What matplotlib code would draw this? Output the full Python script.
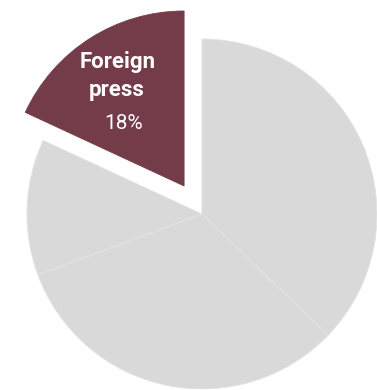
import numpy as np
import matplotlib
matplotlib.use("Agg")
import matplotlib.pyplot as plt

# share of coverage by source, clockwise from 12 o'clock
labels = ["Other A", "Other B", "Other C", "Foreign\npress"]
shares = [37, 32, 12.5, 18]
highlight = "Foreign\npress"

GRAY = "#d9d9d9"
MAROON = "#733c48"

fig = plt.figure(figsize=(3.77, 3.90), dpi=100)
ax = fig.add_axes([0, 0, 1, 1])

colors = [MAROON if l == highlight else GRAY for l in labels]
explode = [0.19 if l == highlight else 0 for l in labels]

wedges, _ = ax.pie(shares, colors=colors, explode=explode, startangle=90,
                   counterclock=False, radius=1.0,
                   wedgeprops=dict(edgecolor="#e4e4e4", linewidth=0.6))
for w, l in zip(wedges, labels):
    if l == highlight:
        w.set_edgecolor(MAROON)

# label inside the highlighted wedge
idx = labels.index(highlight)
w = wedges[idx]
mid = np.deg2rad((w.theta1 + w.theta2) / 2)
cx, cy = w.center
r = 0.66
lx, ly = cx + r * np.cos(mid), cy + r * np.sin(mid)
ax.text(lx - 0.027, ly + 0.15, "Foreign", ha="center", va="center", color="white",
        fontsize=16, fontweight="bold", family="Roboto")
ax.text(lx - 0.027, ly - 0.01, "press", ha="center", va="center", color="white",
        fontsize=16, fontweight="bold", family="Roboto")
ax.text(lx + 0.007, ly - 0.20, f"{shares[idx]:g}%", ha="center", va="center",
        color="white", fontsize=15, family="Roboto")

ax.set_aspect("auto")
ax.set_xlim(-1.154, 1.0)
ax.set_ylim(-1.006, 1.223)
ax.axis("off")

fig.savefig("out.png", dpi=100)
